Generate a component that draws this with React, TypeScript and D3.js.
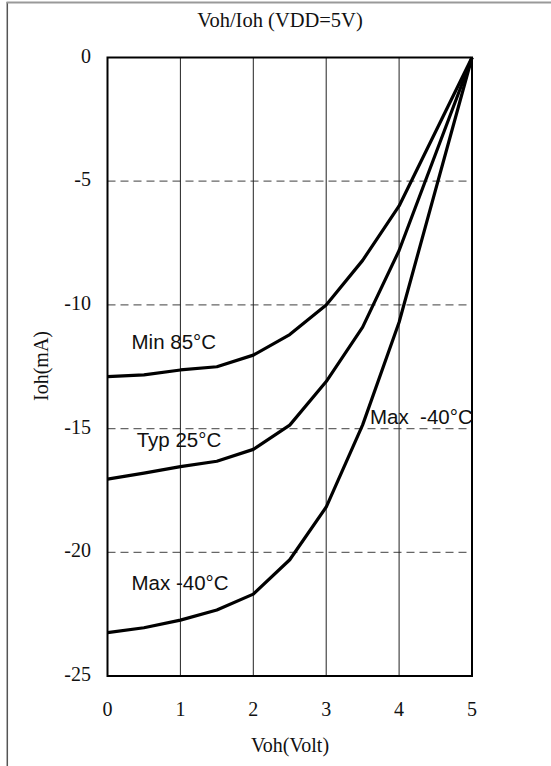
import React from "react";
import * as d3 from "d3";

const voltages = [0, 0.5, 1, 1.5, 2, 2.5, 3, 3.5, 4, 5];
const minSeries = [-12.9, -12.83, -12.63, -12.5, -12.03, -11.2, -10.0, -8.2, -6.0, 0];
const typSeries = [-17.04, -16.8, -16.54, -16.32, -15.84, -14.86, -13.1, -10.9, -7.8, 0];
const maxSeries = [-23.25, -23.05, -22.74, -22.33, -21.69, -20.3, -18.17, -14.85, -10.7, 0];
const xTicks = [0, 1, 2, 3, 4, 5];
const yTicks = [0, -5, -10, -15, -20, -25];

const seriesLabels = [
  { text: "Min 85°C", x: 0.33, y: -11.8 },
  { text: "Typ 25°C", x: 0.4, y: -15.75 },
  { text: "Max -40°C", x: 0.33, y: -21.52 },
  { text: "Max  -40°C", x: 3.6, y: -14.82 },
];

export default function App() {
  const W = 551, H = 766;
  const x = d3.scaleLinear().domain([0, 5]).range([107.5, 472]);
  const y = d3.scaleLinear().domain([0, -25]).range([57.5, 676]);
  const line = d3
    .line<number>()
    .x((_, i) => x(voltages[i]))
    .y((d) => y(d));
  const serif = "'Liberation Serif', 'Times New Roman', serif";
  const sans = "'Liberation Sans', Arial, sans-serif";
  return (
    <svg
      width={W}
      height={H}
      style={{ position: "absolute", left: 0, top: 0, background: "#fff" }}
    >
      <line x1={7.3} x2={7.3} y1={2} y2={H} stroke="#555" strokeWidth={1.5} />
      <line x1={6.5} x2={W} y1={2.5} y2={2.5} stroke="#999" strokeWidth={2} />
      <text x={280} y={27} textAnchor="middle" fontFamily={serif} fontSize={20.5} fill="#111">
        Voh/Ioh (VDD=5V)
      </text>
      {yTicks.slice(1, -1).map((t) => (
        <line
          key={"h" + t}
          x1={x(0)}
          x2={x(5)}
          y1={y(t)}
          y2={y(t)}
          stroke="#666"
          strokeWidth={1.2}
          strokeDasharray="8,5"
        />
      ))}
      {xTicks.slice(1, -1).map((t) => (
        <line
          key={"v" + t}
          x1={x(t)}
          x2={x(t)}
          y1={y(0)}
          y2={y(-25)}
          stroke="#222"
          strokeWidth={1}
        />
      ))}
      <rect
        x={x(0)}
        y={y(0)}
        width={x(5) - x(0)}
        height={y(-25) - y(0)}
        fill="none"
        stroke="#000"
        strokeWidth={2}
      />
      {[minSeries, typSeries, maxSeries].map((s, i) => (
        <path
          key={"s" + i}
          d={line(s) || ""}
          fill="none"
          stroke="#000"
          strokeWidth={3.2}
          strokeLinejoin="round"
        />
      ))}
      {yTicks.map((t) => (
        <text
          key={"yt" + t}
          x={91}
          y={y(t) + 5}
          textAnchor="end"
          fontFamily={serif}
          fontSize={20}
          fill="#111"
        >
          {t}
        </text>
      ))}
      {xTicks.map((t) => (
        <text
          key={"xt" + t}
          x={x(t)}
          y={716}
          textAnchor="middle"
          fontFamily={serif}
          fontSize={20}
          fill="#111"
        >
          {t}
        </text>
      ))}
      <text x={290} y={752} textAnchor="middle" fontFamily={serif} fontSize={20} fill="#111">
        Voh(Volt)
      </text>
      <text
        transform={`translate(48,366) rotate(-90)`}
        textAnchor="middle"
        fontFamily={serif}
        fontSize={20}
        fill="#111"
      >
        Ioh(mA)
      </text>
      {seriesLabels.map((l, i) => (
        <text
          key={"l" + i}
          x={x(l.x)}
          y={y(l.y)}
          fontFamily={sans}
          fontSize={20.5}
          fill="#111"
          style={{ whiteSpace: "pre" }}
        >
          {l.text}
        </text>
      ))}
    </svg>
  );
}
